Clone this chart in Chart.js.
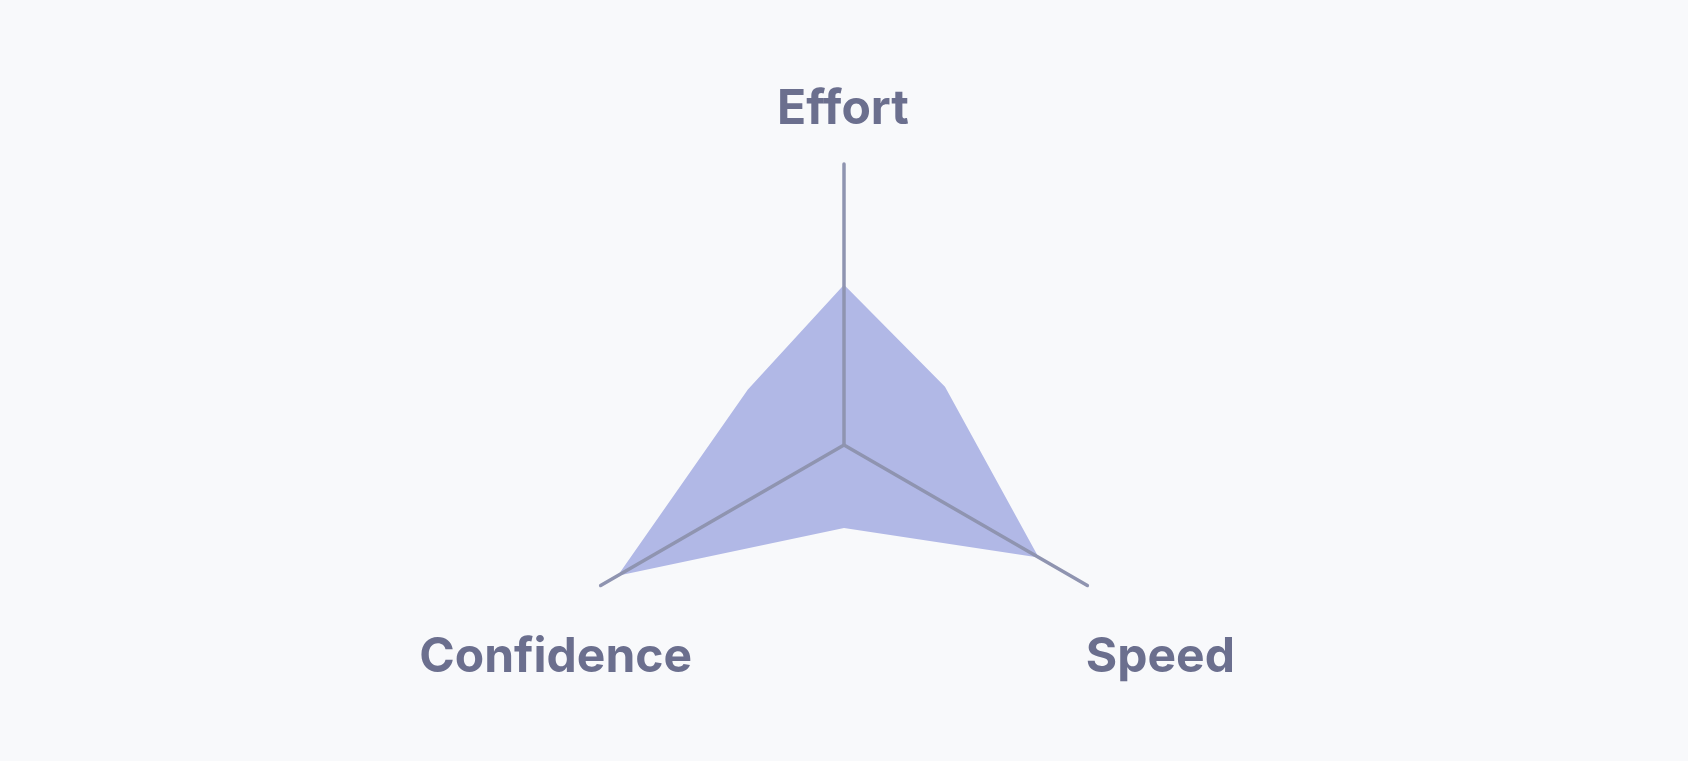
<!DOCTYPE html>
<html>
<head>
<meta charset="utf-8">
<script src="https://cdn.jsdelivr.net/npm/chart.js@4"></script>
<style>
  html, body { margin: 0; padding: 0; background: #f8f9fb; }
  #wrap { width: 1688px; height: 761px; position: relative; }
</style>
</head>
<body>
<div id="wrap"><canvas id="c" width="1688" height="761"></canvas></div>
<script>
// Categories (blank entries are in-between points without an axis)
const categories = ['Effort', '', 'Speed', '', 'Confidence', ''];
// Series values
const scores = [57, 41.5, 80, 29.5, 93, 39.5];
// Scale range
const scaleMin = 0;
const scaleMax = 100;

const labelStyle = {
  font: '700 48px Inter, "Noto Sans", sans-serif',
  color: '#6b6f8e',
  // offsets of the label baseline-centre from the end of each axis
  offsets: { 0: [-1, -40], 2: [73, 86], 4: [-45, 86] }
};

const axisLabelPlugin = {
  id: 'axisLabels',
  beforeDraw(chart) { chart.ctx.lineCap = 'round'; },
  afterDatasetsDraw(chart) { chart.ctx.lineCap = 'round'; },
  afterDraw(chart) {
    const scale = chart.scales.r;
    const ctx = chart.ctx;
    ctx.save();
    ctx.font = labelStyle.font;
    ctx.fillStyle = labelStyle.color;
    ctx.textAlign = 'center';
    ctx.textBaseline = 'alphabetic';
    categories.forEach((name, i) => {
      if (!name) return;
      const p = scale.getPointPosition(i, scale.getDistanceFromCenterForValue(scale.max));
      const off = labelStyle.offsets[i] || [0, 0];
      ctx.fillText(name, p.x + off[0], p.y + off[1]);
    });
    ctx.restore();
  }
};

new Chart(document.getElementById('c'), {
  type: 'radar',
  data: {
    labels: categories,
    datasets: [{
      data: scores,
      backgroundColor: '#b1b8e6',
      borderWidth: 0,
      pointRadius: 0,
      fill: true
    }]
  },
  options: {
    responsive: false,
    animation: false,
    layout: { padding: { top: 164, bottom: 35, left: 0, right: 0 } },
    plugins: { legend: { display: false }, tooltip: { enabled: false } },
    scales: {
      r: {
        min: scaleMin,
        max: scaleMax,
        ticks: { display: false },
        grid: { display: false, z: 1 },
        pointLabels: { display: false },
        angleLines: {
          display: true,
          color: '#8f94b0',
          lineWidth: (ctx) => (ctx.label ? 3.5 : 0)
        }
      }
    }
  },
  plugins: [axisLabelPlugin]
});
</script>
</body>
</html>
